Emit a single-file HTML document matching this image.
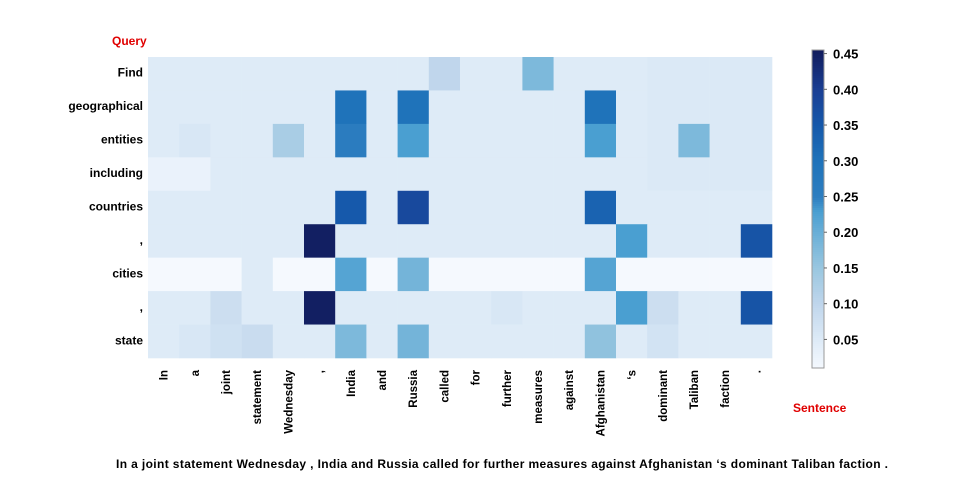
<!DOCTYPE html>
<html><head><meta charset="utf-8"><style>
html,body{margin:0;padding:0;background:#fff;width:954px;height:488px;overflow:hidden}
svg{display:block;font-family:"Liberation Sans",sans-serif;font-weight:bold}
</style></head><body>
<svg id="chart" width="954" height="488">
<g id="cells"></g>
<g id="ylabels"></g>
<g id="xlabels"></g>
<g id="cbar"></g>
<text x="112" y="45" fill="#e00000" font-size="12">Query</text>
<text x="793" y="412" fill="#e00000" font-size="12">Sentence</text>
<text x="502" y="468" text-anchor="middle" font-size="12" textLength="772" lengthAdjust="spacing">In a joint statement Wednesday , India and Russia called for further measures against Afghanistan ‘s dominant Taliban faction .</text>
</svg>
<script>
const sentence = ["In","a","joint","statement","Wednesday",",","India","and","Russia","called","for","further","measures","against","Afghanistan","‘s","dominant","Taliban","faction","."];
const query = ["Find","geographical","entities","including","countries",",","cities",",","state"];
const values = [
 [0.05,0.05,0.05,0.05,0.05,0.05,0.05,0.05,0.05,0.10,0.05,0.05,0.18,0.05,0.05,0.05,0.055,0.055,0.055,0.055],
 [0.05,0.05,0.05,0.05,0.05,0.05,0.30,0.05,0.30,0.05,0.05,0.05,0.05,0.05,0.30,0.05,0.055,0.055,0.055,0.055],
 [0.05,0.06,0.05,0.05,0.13,0.05,0.26,0.05,0.23,0.05,0.05,0.05,0.05,0.05,0.23,0.05,0.055,0.18,0.055,0.055],
 [0.03,0.03,0.05,0.05,0.05,0.05,0.05,0.05,0.05,0.05,0.05,0.05,0.05,0.05,0.05,0.05,0.055,0.055,0.055,0.055],
 [0.05,0.05,0.05,0.05,0.05,0.05,0.35,0.05,0.38,0.05,0.05,0.05,0.05,0.05,0.33,0.05,0.05,0.05,0.05,0.05],
 [0.05,0.05,0.05,0.05,0.05,0.45,0.05,0.05,0.05,0.05,0.05,0.05,0.05,0.05,0.05,0.23,0.05,0.05,0.05,0.36],
 [0.01,0.01,0.01,0.05,0.01,0.01,0.22,0.01,0.19,0.01,0.01,0.01,0.01,0.01,0.22,0.01,0.01,0.01,0.01,0.01],
 [0.05,0.05,0.08,0.05,0.05,0.45,0.05,0.05,0.05,0.05,0.05,0.06,0.05,0.05,0.05,0.23,0.08,0.05,0.05,0.36],
 [0.05,0.06,0.075,0.085,0.05,0.05,0.18,0.05,0.19,0.05,0.05,0.05,0.05,0.05,0.16,0.05,0.07,0.05,0.05,0.05]
];
const cbTicks = [0.05,0.10,0.15,0.20,0.25,0.30,0.35,0.40,0.45];
const vmin = 0.01, vmax = 0.455;

const NS="http://www.w3.org/2000/svg";
const X0=148, X1=772, Y0=57, Y1=358;
const cw=(X1-X0)/sentence.length, ch=(Y1-Y0)/query.length;
const xPos=i=>X0+i*cw, yPos=j=>Y0+j*ch;
const stops=[[0.01,[245,249,254]],[0.05,[222,235,247]],[0.10,[192,214,236]],[0.15,[154,199,224]],[0.20,[106,175,215]],[0.23,[74,159,209]],[0.25,[46,126,192]],[0.30,[31,115,186]],[0.35,[22,89,171]],[0.40,[26,63,148]],[0.455,[17,28,93]]];
function color(v){
  v=Math.max(stops[0][0],Math.min(stops[stops.length-1][0],v));
  for(let k=0;k<stops.length-1;k++){const a=stops[k],b=stops[k+1];
    if(v<=b[0]){const t=(v-a[0])/(b[0]-a[0]);return 'rgb('+a[1].map((c,i)=>Math.round(c+(b[1][i]-c)*t)).join(',')+')';}}
  return 'rgb(17,28,93)';
}
const cells=document.getElementById('cells');
values.forEach((row,j)=>row.forEach((v,i)=>{
  const r=document.createElementNS(NS,'rect');
  r.setAttribute('x',xPos(i));r.setAttribute('y',yPos(j));
  r.setAttribute('width',cw+0.3);r.setAttribute('height',ch+0.3);
  r.setAttribute('fill',color(v));
  
  
  cells.appendChild(r);
}));
const yl=document.getElementById('ylabels');
query.forEach((q,j)=>{
  const t=document.createElementNS(NS,'text');
  t.setAttribute('x',143);t.setAttribute('y',yPos(j)+ch/2+3);
  t.setAttribute('text-anchor','end');t.setAttribute('font-size','12');
  t.textContent=q;
  
  
  yl.appendChild(t);
});
const xl=document.getElementById('xlabels');
sentence.forEach((s,i)=>{
  const t=document.createElementNS(NS,'text');
  const cx=xPos(i)+cw/2+4, cy=370;
  t.setAttribute('x',cx);t.setAttribute('y',cy);
  t.setAttribute('text-anchor','end');t.setAttribute('font-size','11.5');
  t.setAttribute('transform','rotate(-90 '+cx+' '+cy+')');
  t.textContent=s;
  
  
  xl.appendChild(t);
});
const cb=document.getElementById('cbar');
const CBY0=50, CBY1=368, cbx=812, cbw=12;
const cbY=v=>CBY0+(vmax-v)/(vmax-vmin)*(CBY1-CBY0);
for(let k=0;k<159;k++){
  const y=CBY0+k*2, v=vmax-(y-CBY0)/(CBY1-CBY0)*(vmax-vmin);
  const r=document.createElementNS(NS,'rect');
  r.setAttribute('x',cbx);r.setAttribute('y',y);r.setAttribute('width',cbw);r.setAttribute('height',2.5);
  r.setAttribute('fill',color(v));
  
  
  cb.appendChild(r);
}
const fr=document.createElementNS(NS,'rect');
fr.setAttribute('x',cbx);fr.setAttribute('y',CBY0);fr.setAttribute('width',cbw);fr.setAttribute('height',CBY1-CBY0);
fr.setAttribute('fill','none');fr.setAttribute('stroke','#999');fr.setAttribute('stroke-width','1');


cb.appendChild(fr);
cbTicks.forEach(v=>{
  const y=cbY(v);
  const l=document.createElementNS(NS,'line');
  l.setAttribute('x1',cbx+cbw);l.setAttribute('x2',cbx+cbw+3);l.setAttribute('y1',y);l.setAttribute('y2',y);
  l.setAttribute('stroke','#666');
  
  
  cb.appendChild(l);
  const t=document.createElementNS(NS,'text');
  t.setAttribute('x',833);t.setAttribute('y',y+5);t.setAttribute('font-size','13');
  t.textContent=v.toFixed(2);
  
  
  cb.appendChild(t);
});
</script>
</body></html>
